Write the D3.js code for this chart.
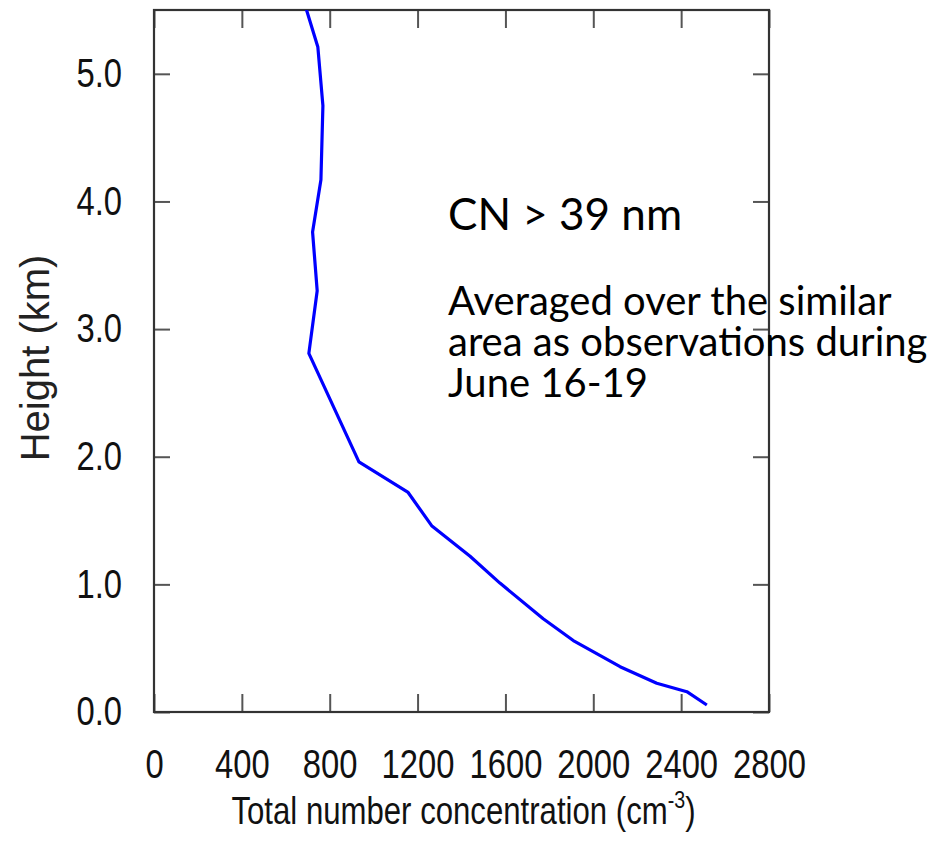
<!DOCTYPE html>
<html>
<head>
<meta charset="utf-8">
<script src="https://cdn.jsdelivr.net/npm/d3@7"></script>
<style>
  body { margin: 0; background: #fff; }
</style>
</head>
<body>
<svg id="graphic" width="950" height="846"></svg>
<script>
// profile: height (km) and concentration (cm^-3)
var heights = [5.75, 5.21, 4.75, 4.17, 3.76, 3.30, 2.81, 1.96, 1.72, 1.46, 1.22, 1.01, 0.73, 0.56, 0.355, 0.225, 0.159, 0.055];
var conc = [650, 746, 769, 760, 722, 743, 705, 933, 1157, 1264, 1439, 1575, 1772, 1909, 2122, 2289, 2426, 2517];

var xTicks = [0, 400, 800, 1200, 1600, 2000, 2400, 2800];
var yTicks = [0, 1, 2, 3, 4, 5];
var yTickLabels = ["0.0", "1.0", "2.0", "3.0", "4.0", "5.0"];

var noteTitle = "CN > 39 nm";
var noteLines = ["Averaged over the similar", "area as observations during", "June 16-19"];

var mLeft = 154, mRight = 769, mTop = 10, mBottom = 712;
var squeeze = 0.82; // the plot's text is horizontally condensed

var svg = d3.select("#graphic");

var x = d3.scaleLinear().domain([0, 2800]).range([mLeft, mRight]);
var y = d3.scaleLinear().domain([0, 5.5]).range([mBottom, mTop]);

var sans = '"Liberation Sans", Arial, sans-serif';

// axes with inward ticks on all four sides
var gBottom = svg.append("g")
  .attr("transform", "translate(0," + mBottom + ")")
  .call(d3.axisBottom(x).tickValues(xTicks).tickSize(-18).tickPadding(38).tickFormat(d3.format("d")));

var gTop = svg.append("g")
  .attr("transform", "translate(0," + mTop + ")")
  .call(d3.axisTop(x).tickValues(xTicks).tickSize(-18).tickFormat(""));

var gLeft = svg.append("g")
  .attr("transform", "translate(" + mLeft + ",0)")
  .call(d3.axisLeft(y).tickValues(yTicks).tickSize(-16).tickPadding(32 / squeeze)
    .tickFormat(function (d, i) { return yTickLabels[i]; }));

var gRight = svg.append("g")
  .attr("transform", "translate(" + mRight + ",0)")
  .call(d3.axisRight(y).tickValues(yTicks).tickSize(-16).tickFormat(""));

[gBottom, gTop, gLeft, gRight].forEach(function (g) {
  g.select(".domain").remove();
  g.selectAll(".tick line").attr("stroke", "#555").attr("stroke-width", 2);
  g.selectAll(".tick text")
    .attr("font-size", 40)
    .attr("fill", "#111")
    .attr("font-family", sans)
    .attr("transform", "scale(" + squeeze + ",1)");
});

// frame
svg.append("rect")
  .attr("x", mLeft).attr("y", mTop)
  .attr("width", mRight - mLeft).attr("height", mBottom - mTop)
  .attr("fill", "none").attr("stroke", "#333").attr("stroke-width", 2.2);

// profile line
svg.append("clipPath").attr("id", "plotArea")
  .append("rect")
  .attr("x", mLeft).attr("y", mTop)
  .attr("width", mRight - mLeft).attr("height", mBottom - mTop);

var line = d3.line()
  .x(function (d, i) { return x(conc[i]); })
  .y(function (d) { return y(d); });

svg.append("path")
  .datum(heights)
  .attr("clip-path", "url(#plotArea)")
  .attr("d", line)
  .attr("fill", "none")
  .attr("stroke", "#0000ff")
  .attr("stroke-width", 3.2)
  .attr("stroke-linejoin", "round");

// axis titles
var xTitle = svg.append("text")
  .attr("transform", "translate(" + ((mLeft + mRight) / 2 + 2) + ",824) scale(" + squeeze + ",1)")
  .attr("text-anchor", "middle")
  .attr("font-family", sans)
  .attr("font-size", 38)
  .attr("fill", "#111");
xTitle.append("tspan").text("Total number concentration (cm");
xTitle.append("tspan").attr("font-size", 24).attr("dy", -16).text("-3");
xTitle.append("tspan").attr("dy", 16).text(")");

svg.append("text")
  .attr("transform", "translate(49,358) rotate(-90)")
  .attr("text-anchor", "middle")
  .attr("font-family", sans)
  .attr("font-size", 40)
  .attr("fill", "#222")
  .text("Height (km)");

// annotation
var noteFont = 'Lato, "Open Sans", sans-serif';

svg.append("text")
  .attr("x", 448).attr("y", 230)
  .attr("font-family", noteFont)
  .attr("font-size", 44)
  .attr("fill", "#000")
  .text(noteTitle);

svg.append("g").selectAll("text")
  .data(noteLines)
  .enter()
  .append("text")
  .attr("x", 448)
  .attr("y", function (d, i) { return 315 + i * 41; })
  .attr("font-family", noteFont)
  .attr("font-size", 40)
  .attr("fill", "#000")
  .text(function (d) { return d; });
</script>
</body>
</html>
